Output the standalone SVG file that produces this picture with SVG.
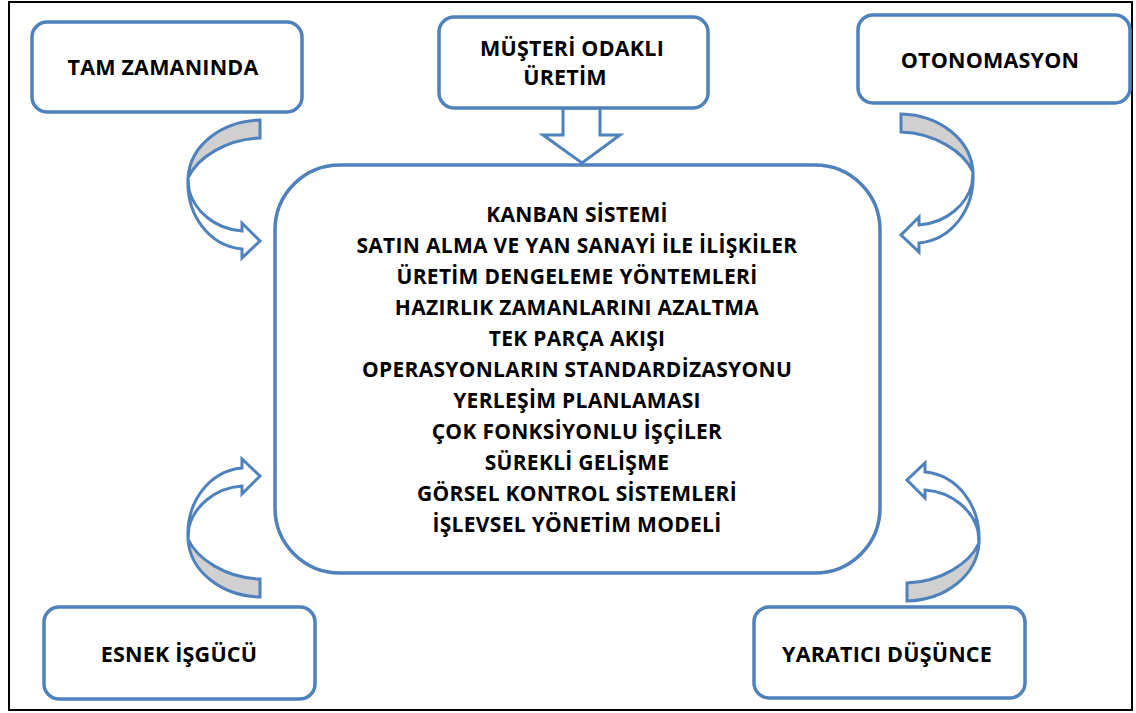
<svg xmlns="http://www.w3.org/2000/svg" xmlns:xlink="http://www.w3.org/1999/xlink" width="1136" height="713" viewBox="0 0 1136 713">
  <style>
    .frame { fill: #ffffff; stroke: #000000; stroke-width: 2; }
    .box { fill: #ffffff; stroke: #4f81bd; stroke-width: 3.5; }
    .arr { stroke: #4f81bd; stroke-width: 3; stroke-linejoin: miter; }
    .back { fill: #d0d0d0; }
    .front { fill: #ffffff; }
    .label { font-family: "Open Sans", Lato, "DejaVu Sans", sans-serif; font-weight: bold; fill: #000000; text-anchor: middle; }
    .title { font-size: 21.5px; letter-spacing: 0.2px; }
    .item { font-size: 21px; letter-spacing: 0.3px; }
  </style>
  <defs>
    <!-- curved arrow: grey back face on top, white head sweeping down-right -->
    <g id="curved-arrow">
      <path class="arr back" d="M260,120 C222,121 190,145 188,178 C197,158 226,139 260,138 Z"/>
      <path class="arr front" d="M188,178 C186,216 210,246 242,249 L242,258 L260,241 L242,223 L242,231 C214,229 194,210 189,190 Z"/>
    </g>
  </defs>

  <rect class="frame" x="9" y="2" width="1123" height="708"/>

  <g id="connectors">
    <path id="arrow-down" class="arr front" d="M563,108 L563,135 L543,135 L582,163 L620,135 L600,135 L600,108 Z"/>
    <use id="arrow-tl" xlink:href="#curved-arrow"/>
    <use id="arrow-tr" xlink:href="#curved-arrow" transform="translate(1161,-6) scale(-1,1)"/>
    <use id="arrow-bl" xlink:href="#curved-arrow" transform="translate(0,717) scale(1,-1)"/>
    <use id="arrow-br" xlink:href="#curved-arrow" transform="translate(1167,721) scale(-1,-1)"/>
  </g>

  <g id="node-tam-zamaninda">
    <rect class="box" x="32" y="22" width="270" height="90" rx="15"/>
    <text class="label title" x="163" y="75">TAM ZAMANINDA</text>
  </g>

  <g id="node-musteri-odakli">
    <rect class="box" x="439" y="17" width="269" height="91" rx="15"/>
    <text class="label title" x="572" y="56">MÜŞTERİ ODAKLI</text>
    <text class="label title" x="565" y="85">ÜRETİM</text>
  </g>

  <g id="node-otonomasyon">
    <rect class="box" x="858" y="15" width="272" height="88" rx="15"/>
    <text class="label title" x="990" y="68">OTONOMASYON</text>
  </g>

  <g id="node-esnek-isgucu">
    <rect class="box" x="44" y="607" width="271" height="92" rx="15"/>
    <text class="label title" x="179" y="662">ESNEK İŞGÜCÜ</text>
  </g>

  <g id="node-yaratici-dusunce">
    <rect class="box" x="754" y="607" width="271" height="91" rx="15"/>
    <text class="label title" x="887" y="662">YARATICI DÜŞÜNCE</text>
  </g>

  <g id="node-center">
    <rect class="box" x="275" y="165" width="605" height="408" rx="65"/>
    <text class="label item" x="577" y="222">KANBAN SİSTEMİ</text>
    <text class="label item" x="577" y="253">SATIN ALMA VE YAN SANAYİ İLE İLİŞKİLER</text>
    <text class="label item" x="577" y="284">ÜRETİM DENGELEME YÖNTEMLERİ</text>
    <text class="label item" x="577" y="315">HAZIRLIK ZAMANLARINI AZALTMA</text>
    <text class="label item" x="577" y="346">TEK PARÇA AKIŞI</text>
    <text class="label item" x="577" y="377">OPERASYONLARIN STANDARDİZASYONU</text>
    <text class="label item" x="577" y="408">YERLEŞİM PLANLAMASI</text>
    <text class="label item" x="577" y="439">ÇOK FONKSİYONLU İŞÇİLER</text>
    <text class="label item" x="577" y="470">SÜREKLİ GELİŞME</text>
    <text class="label item" x="577" y="501">GÖRSEL KONTROL SİSTEMLERİ</text>
    <text class="label item" x="577" y="532">İŞLEVSEL YÖNETİM MODELİ</text>
  </g>
</svg>
